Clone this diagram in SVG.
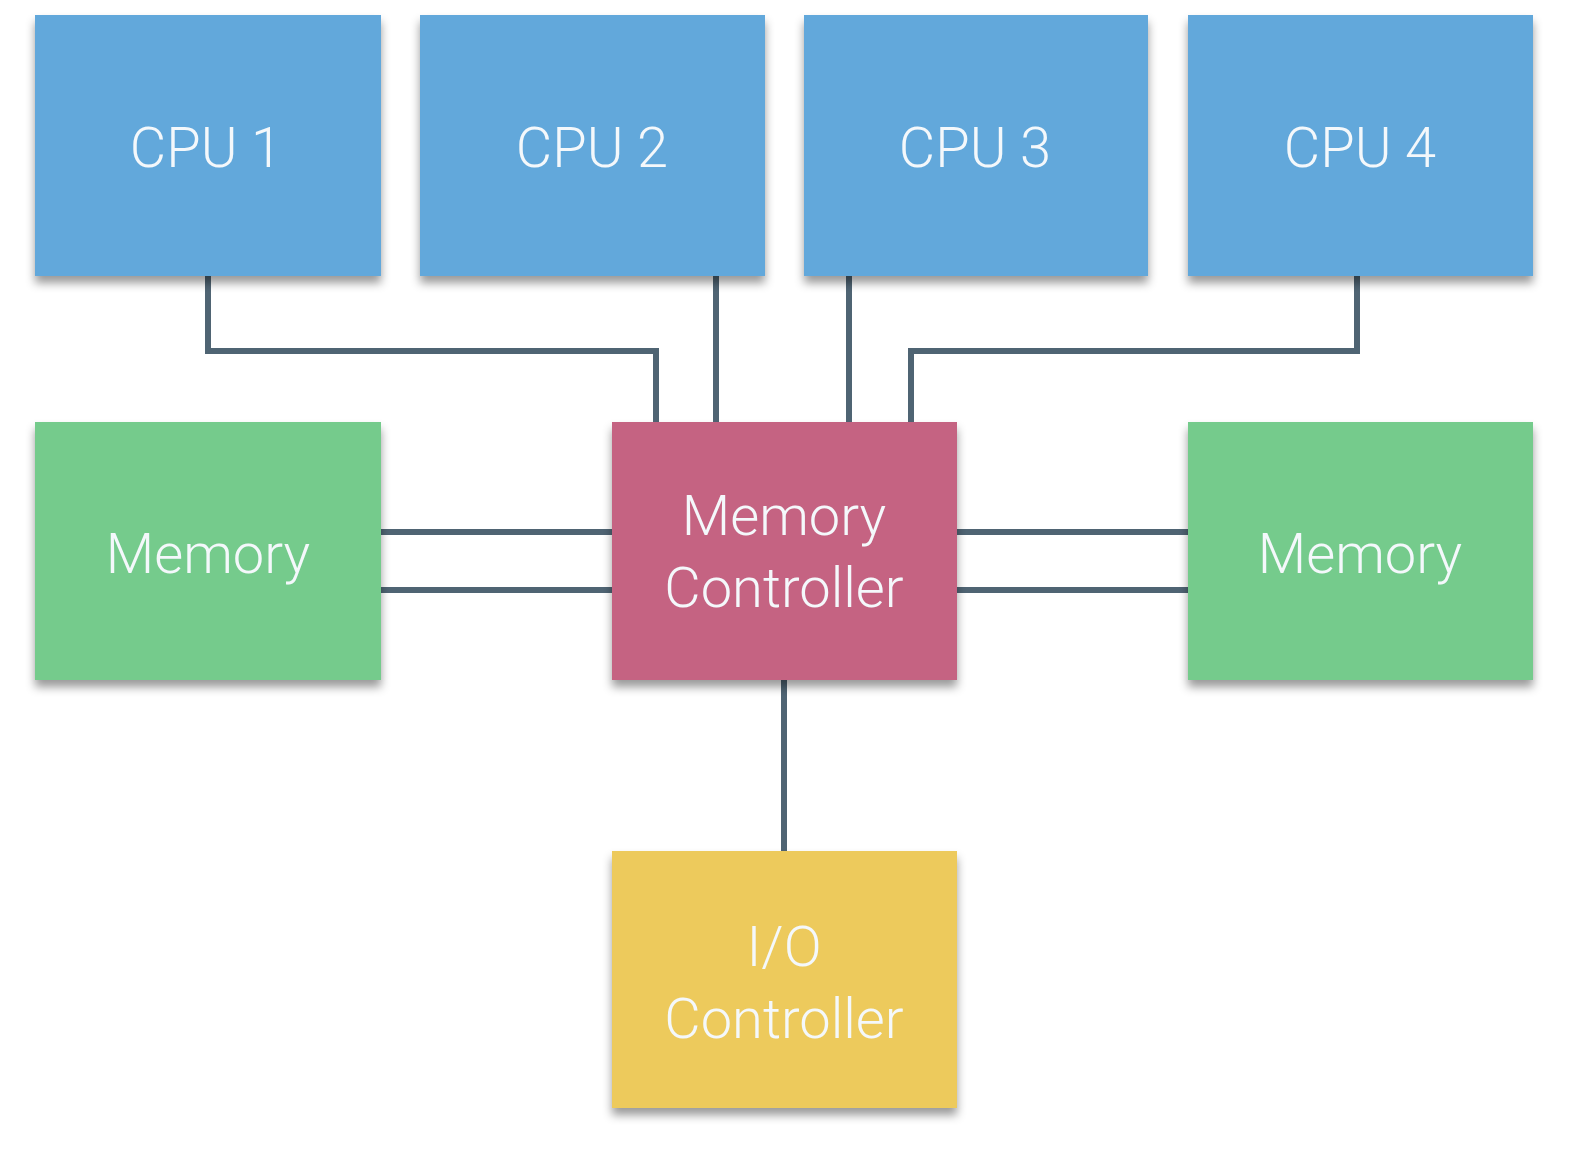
<svg xmlns="http://www.w3.org/2000/svg" width="1570" height="1162" viewBox="0 0 1570 1162">
<style>
.cpu{fill:#62a8db}
.mem{fill:#74cb8c}
.mc{fill:#c56482}
.io{fill:#edca5c}
.box{filter:url(#sh)}
.lbl{font-family:Roboto,"Liberation Sans",sans-serif;font-weight:300;font-size:56px;fill:#f4f8fb;text-anchor:middle}
.wire{fill:none;stroke:#4f6473;stroke-width:6;stroke-linejoin:miter}
</style>
<defs>
<filter id="sh" x="-10%" y="-10%" width="120%" height="130%">
<feDropShadow dx="0" dy="7" stdDeviation="5" flood-color="#000" flood-opacity="0.4"/>
</filter>
</defs>
<rect width="1570" height="1162" fill="#ffffff"/>
<g id="connectors">
<path class="wire" d="M208 276 V351 H656 V422"/>
<path class="wire" d="M716 276 V422"/>
<path class="wire" d="M849 276 V422"/>
<path class="wire" d="M1357 276 V351 H911 V422"/>
<path class="wire" d="M381 532 H612"/>
<path class="wire" d="M381 590 H612"/>
<path class="wire" d="M957 532 H1188"/>
<path class="wire" d="M957 590 H1188"/>
<path class="wire" d="M784 680 V851"/>
</g>
<g id="cpu1"><rect class="box cpu" x="35" y="15" width="346" height="261"/><text class="lbl" x="206" y="167">CPU 1</text></g>
<g id="cpu2"><rect class="box cpu" x="420" y="15" width="345" height="261"/><text class="lbl" x="592" y="167">CPU 2</text></g>
<g id="cpu3"><rect class="box cpu" x="804" y="15" width="344" height="261"/><text class="lbl" x="975" y="167">CPU 3</text></g>
<g id="cpu4"><rect class="box cpu" x="1188" y="15" width="345" height="261"/><text class="lbl" x="1360" y="167">CPU 4</text></g>
<g id="memory-left"><rect class="box mem" x="35" y="422" width="346" height="258"/><text class="lbl" x="208" y="573">Memory</text></g>
<g id="memory-controller"><rect class="box mc" x="612" y="422" width="345" height="258"/><text class="lbl" x="784" y="535">Memory</text><text class="lbl" x="784" y="607">Controller</text></g>
<g id="memory-right"><rect class="box mem" x="1188" y="422" width="345" height="258"/><text class="lbl" x="1360" y="573">Memory</text></g>
<g id="io-controller"><rect class="box io" x="612" y="851" width="345" height="257"/><text class="lbl" x="784" y="966">I/O</text><text class="lbl" x="784" y="1038">Controller</text></g>
</svg>
